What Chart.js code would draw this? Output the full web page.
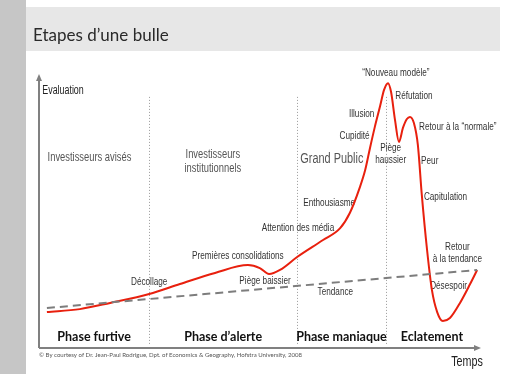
<!DOCTYPE html>
<html>
<head>
<meta charset="utf-8">
<script src="https://cdn.jsdelivr.net/npm/chart.js@4/dist/chart.umd.min.js"></script>
<style>
  html, body { margin: 0; padding: 0; background: #fff; }
</style>
</head>
<body>
<canvas id="myChart" width="508" height="374"></canvas>
<script>
// time (0-100) and valuation (0-100)
const timeX = [1.8, 9.3, 16.2, 25.1, 32.1, 40.1, 47.6, 50.3, 52.4, 54.9, 58.8, 64.7, 68.6, 70.8, 73.1, 74.3, 75.4, 76.5, 77.7, 78.6, 79.5, 80.2, 81.1, 82.0, 82.9, 83.8, 84.5, 85.4, 86.3, 87.2, 88.4, 89.5, 90.7, 92.0, 93.6, 95.9, 98.2, 99.8];
const bubbleY = [13.3, 14.4, 16.7, 20.0, 23.7, 27.8, 30.7, 29.6, 27.4, 28.9, 33.7, 40.0, 44.4, 50.0, 59.6, 65.9, 74.1, 81.9, 89.6, 95.6, 98.1, 94.8, 84.4, 76.3, 81.5, 84.8, 85.6, 83.3, 75.2, 56.7, 36.3, 21.5, 13.3, 10.0, 11.1, 16.7, 23.7, 28.9];
const trendX = [1.8, 99.8];
const trendY = [14.8, 28.9];

const phaseBounds = [25.1, 58.8, 79.0];
const phaseNames = ['Phase furtive', 'Phase d\u2019alerte', 'Phase maniaque', 'Eclatement'];

// annotations: text lines, x, y in chart units
const stageLabels = [
  { lines: ['Investisseurs avisés'], x: 11.5, y: 70.4, big: 1 },
  { lines: ['Investisseurs', 'institutionnels'], x: 39.6, y: 71.5, big: 1 },
  { lines: ['Grand Public'], x: 66.7, y: 70.0, big: 2 },
  { lines: ['Décollage'], x: 25.1, y: 24.4 },
  { lines: ['Premières consolidations'], x: 45.3, y: 34.1 },
  { lines: ['Piège baissier'], x: 51.5, y: 24.8 },
  { lines: ['Attention des média'], x: 59.0, y: 44.4 },
  { lines: ['Tendance'], x: 67.5, y: 20.7 },
  { lines: ['Enthousiasme'], x: 66.1, y: 53.7 },
  { lines: ['Cupidité'], x: 71.9, y: 78.5 },
  { lines: ['Illusion'], x: 73.5, y: 86.7 },
  { lines: ['\u201CNouveau modèle\u201D'], x: 81.3, y: 101.9 },
  { lines: ['Réfutation'], x: 85.4, y: 93.3 },
  { lines: ['Retour à la \u201Cnormale\u201D'], x: 95.4, y: 81.9 },
  { lines: ['Piège', 'haussier'], x: 80.1, y: 74.1 },
  { lines: ['Peur'], x: 89.0, y: 69.3 },
  { lines: ['Capitulation'], x: 92.6, y: 55.9 },
  { lines: ['Retour', 'à la tendance'], x: 95.3, y: 37.4 },
  { lines: ['Désespoir'], x: 93.3, y: 23.0 }
];

const condensed = '"Liberation Sans", "DejaVu Sans", sans-serif';

function narrowText(ctx, text, x, y, size, color, squeeze, weight) {
  ctx.save();
  ctx.font = (weight || 'normal') + ' ' + size + 'px ' + condensed;
  ctx.fillStyle = color;
  ctx.textAlign = 'center';
  ctx.textBaseline = 'middle';
  ctx.translate(x, y);
  ctx.scale(squeeze, 1);
  ctx.fillText(text, 0, 0);
  ctx.restore();
}

const bubbleDecor = {
  id: 'bubbleDecor',
  beforeDraw(chart) {
    const ctx = chart.ctx;
    const xs = chart.scales.x, ys = chart.scales.y;
    ctx.save();
    ctx.fillStyle = '#ffffff';
    ctx.fillRect(0, 0, chart.width, chart.height);
    ctx.fillStyle = '#c6c6c6';
    ctx.fillRect(0, 0, 26, chart.height);
    ctx.fillStyle = '#e7e7e7';
    ctx.fillRect(26, 7, 474, 44);
    ctx.fillStyle = '#2a2a2a';
    ctx.font = 'normal 17px Lato, sans-serif';
    ctx.textBaseline = 'alphabetic';
    ctx.fillText('Etapes d\u2019une bulle', 33, 41);

    // dotted phase separators
    ctx.strokeStyle = '#9a9a9a';
    ctx.lineWidth = 1;
    ctx.setLineDash([1, 2]);
    phaseBounds.forEach(b => {
      const px = Math.round(xs.getPixelForValue(b)) + 0.5;
      ctx.beginPath();
      ctx.moveTo(px, ys.getPixelForValue(93));
      ctx.lineTo(px, ys.getPixelForValue(1));
      ctx.stroke();
    });
    ctx.setLineDash([]);

    // stage annotations
    stageLabels.forEach(l => {
      const size = l.big === 2 ? 14 : l.big === 1 ? 12 : 10.5;
      const lh = l.big ? 14 : 12;
      l.lines.forEach((t, i) => {
        narrowText(ctx, t, xs.getPixelForValue(l.x), ys.getPixelForValue(l.y) + i * lh, size, l.big ? '#555' : '#333', 0.78);
      });
    });

    // phase names
    const bounds = [xs.min].concat(phaseBounds, [xs.max]);
    phaseNames.forEach((n, i) => {
      const cx = xs.getPixelForValue((bounds[i] + bounds[i + 1]) / 2);
      ctx.font = 'bold 12.5px Lato, sans-serif';
      ctx.fillStyle = '#111';
      ctx.textAlign = 'center';
      ctx.textBaseline = 'middle';
      ctx.fillText(n, cx, ys.getPixelForValue(4.1));
    });
    ctx.restore();
  },
  afterDatasetsDraw(chart) {
    const ctx = chart.ctx;
    const a = chart.chartArea;
    ctx.save();
    ctx.strokeStyle = '#808080';
    ctx.fillStyle = '#808080';
    ctx.lineWidth = 2;
    ctx.beginPath();
    ctx.moveTo(a.left, a.bottom);
    ctx.lineTo(a.left, a.top);
    ctx.moveTo(a.left, a.bottom);
    ctx.lineTo(a.right - 2, a.bottom);
    ctx.stroke();
    ctx.beginPath();
    ctx.moveTo(a.left, a.top - 4);
    ctx.lineTo(a.left - 3, a.top + 3);
    ctx.lineTo(a.left + 3, a.top + 3);
    ctx.closePath();
    ctx.fill();
    ctx.beginPath();
    ctx.moveTo(a.right + 3, a.bottom);
    ctx.lineTo(a.right - 4, a.bottom - 3);
    ctx.lineTo(a.right - 4, a.bottom + 3);
    ctx.closePath();
    ctx.fill();

    narrowText(ctx, 'Evaluation', a.left + 24, a.top + 13, 12, '#222', 0.74);
    narrowText(ctx, 'Temps', a.right - 11, a.bottom + 14, 14.5, '#222', 0.74);

    ctx.font = '6.5px Lato, sans-serif';
    ctx.fillStyle = '#555';
    ctx.textAlign = 'left';
    ctx.textBaseline = 'middle';
    ctx.fillText('\u00A9 By courtesy of Dr. Jean-Paul Rodrigue, Dpt. of Economics & Geography, Hofstra University, 2008', a.left, a.bottom + 7, 263);
    ctx.restore();
  }
};

new Chart(document.getElementById('myChart'), {
  type: 'line',
  data: {
    datasets: [
      {
        label: 'Tendance',
        data: trendX.map((x, i) => ({ x: x, y: trendY[i] })),
        borderColor: '#7d7d7d',
        borderWidth: 2,
        borderDash: [8, 5],
        pointRadius: 0
      },
      {
        label: 'Bulle',
        data: timeX.map((x, i) => ({ x: x, y: bubbleY[i] })),
        borderColor: '#e8200e',
        borderWidth: 2,
        pointRadius: 0,
        cubicInterpolationMode: 'monotone'
      }
    ]
  },
  options: {
    responsive: false,
    animation: false,
    layout: { padding: { left: 39, right: 30, top: 78, bottom: 26 } },
    scales: {
      x: { type: 'linear', min: 0, max: 100, display: false },
      y: { min: 0, max: 100, display: false }
    },
    plugins: { legend: { display: false }, tooltip: { enabled: false } }
  },
  plugins: [bubbleDecor]
});
</script>
</body>
</html>
